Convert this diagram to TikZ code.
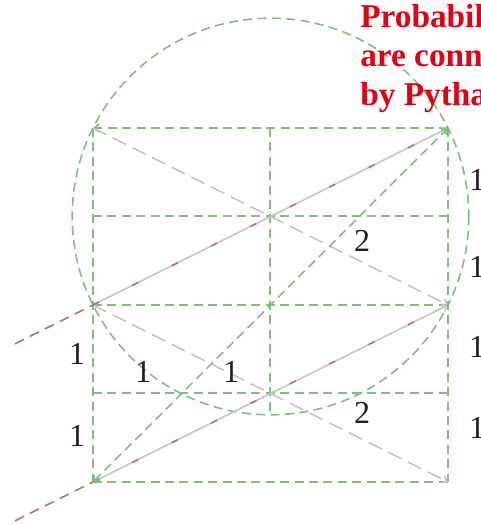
\documentclass[tikz,border=0pt]{standalone}
\usepackage{fontspec}
\setmainfont{Liberation Serif}
\usetikzlibrary{arrows.meta}
\definecolor{gridgreen}{RGB}{125,192,125}
\definecolor{lgrey}{RGB}{196,196,196}
\definecolor{rbrown}{RGB}{192,108,108}
\definecolor{titlered}{RGB}{228,0,20}
\definecolor{numblack}{RGB}{35,31,32}
\begin{document}
\begin{tikzpicture}[x=0.75pt,y=-0.75pt,
 gline/.style={draw=gridgreen, line width=1.2pt, dash pattern=on 6.8pt off 4pt},
 gdash/.style={draw=lgrey, line width=1.2pt, dash pattern=on 11pt off 5.5pt},
 rdash/.style={draw=rbrown, line width=1.2pt, dash pattern=on 7.5pt off 5pt},
 rsparse/.style={draw=rbrown, line width=1.2pt, dash pattern=on 5pt off 28pt},
 gsolid/.style={draw=lgrey, line width=1.2pt},
 tipend/.style={-{Straight Barb[length=3.5pt,width=6pt]}},
 tipboth/.style={{Straight Barb[length=3.5pt,width=6pt]}-{Straight Barb[length=3.5pt,width=6pt]}},
 num/.style={font=\fontsize{24}{24}\selectfont, text=numblack, inner sep=0pt},
 ttl/.style={font=\fontsize{25}{30}\selectfont\bfseries, text=titlered, inner sep=0pt, anchor=base west}]
\useasboundingbox (0,0) rectangle (480,524);
\clip (0,0) rectangle (480,524);
% grid points
\coordinate (A) at (93,128);
\coordinate (M1) at (270,128);
\coordinate (B) at (448,128);
\coordinate (A2) at (93,216);
\coordinate (B2) at (448,216);
\coordinate (C) at (93,305);
\coordinate (D) at (448,305);
\coordinate (C2) at (93,393);
\coordinate (D2) at (448,393);
\coordinate (E) at (93,482);
\coordinate (F) at (448,482);
\coordinate (O) at (270.5,216.5);
\coordinate (MB) at (270,412);
\coordinate (X1) at (15,343.8);
\coordinate (X2) at (15,520.8);
% circle
\draw[gline] (O) circle (198.3);
% grid
\draw[gline, tipend] (B) -- (A);
\draw[gline] (A2) -- (B2);
\draw[gline] (C) -- (D);
\draw[gline] (C2) -- (D2);
\draw[gline] (E) -- (F);
\draw[gline] (A) -- (E);
\draw[gline] (B) -- (F);
\draw[gline] (M1) -- (MB);
% grey dashed diagonals
\draw[gdash, tipend] (A) -- (D);
\draw[gdash, tipend] (C) -- (F);
% grey solid with red dashes
\draw[gsolid, tipend] (C) -- (B);
\draw[gsolid, tipend] (E) -- (D);
\draw[rsparse] (C) -- (B);
\draw[rsparse] (E) -- (D);
\draw[rdash] (X1) -- (C);
\draw[rdash] (X2) -- (E);
% green diagonal
\draw[gline, tipboth] (E) -- (B);
% labels
\node[num] (l1) at (77,354) {1};
\node[num] (l2) at (77,436) {1};
\node[num] (l3) at (143,372) {1};
\node[num] (l4) at (231,372) {1};
\node[num] (l5) at (362,413) {2};
\node[num] (l6) at (362,241) {2};
\node[num] (r1) at (477,180) {1};
\node[num] (r2) at (477,267) {1};
\node[num] (r3) at (477,347) {1};
\node[num] (r4) at (477,428) {1};
% title
\node[ttl] (t1) at (360,28) {Probabilities};
\node[ttl] (t2) at (360,67) {are connected};
\node[ttl] (t3) at (360,106) {by Pythagoras};
\end{tikzpicture}
\end{document}
